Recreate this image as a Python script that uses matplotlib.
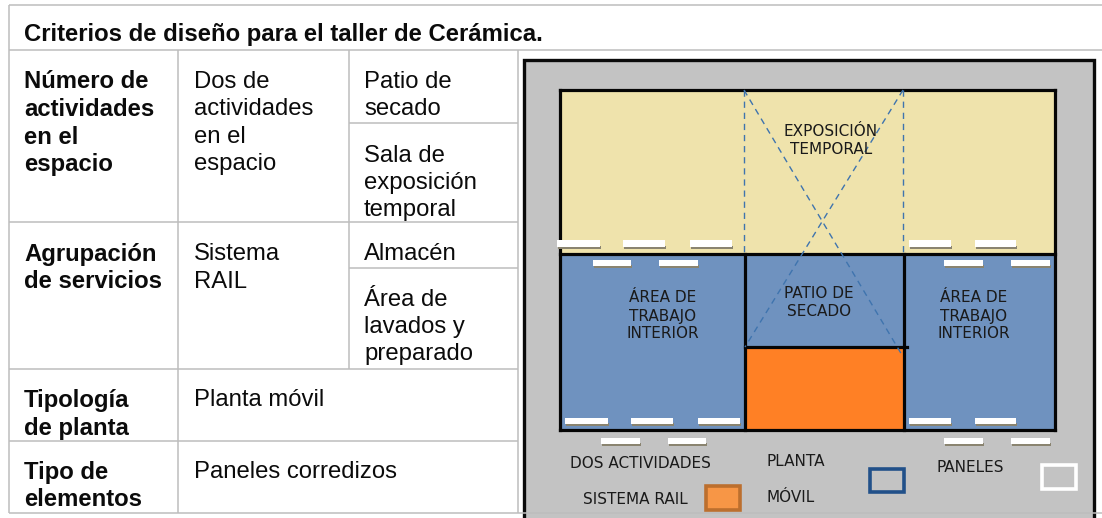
import matplotlib
matplotlib.use("Agg")
import matplotlib.pyplot as plt
from matplotlib.patches import Rectangle

title = "Criterios de diseño para el taller de Cerámica."
row_heads = ["Número de\nactividades\nen el\nespacio", "Agrupación\nde servicios", "Tipología\nde planta", "Tipo de\nelementos"]
col2 = ["Dos de\nactividades\nen el\nespacio", "Sistema\nRAIL", "Planta móvil", "Paneles corredizos"]
col3 = ["Patio de\nsecado", "Sala de\nexposición\ntemporal", "Almacén", "Área de\nlavados y\npreparado"]
room_labels = ["EXPOSICIÓN\nTEMPORAL", "ÁREA DE\nTRABAJO\nINTERIOR", "PATIO DE\nSECADO", "ÁREA DE\nTRABAJO\nINTERIOR"]
legend_labels = ["DOS ACTIVIDADES", "SISTEMA RAIL", "PLANTA", "MÓVIL", "PANELES"]

W, H = 1102, 518
fig = plt.figure(figsize=(W / 100, H / 100), dpi=100, facecolor="white")
ax = fig.add_axes([0, 0, 1, 1])
ax.set_xlim(0, W)
ax.set_ylim(H, 0)
ax.axis("off")

GRID = "#BDBDBD"
INK = "#0B0B0B"
SANS = "Liberation Sans"
FS = 17.2


def rect(x0, y0, x1, y1, fc="none", ec="none", lw=0, z=2):
    ax.add_patch(Rectangle((x0, y0), x1 - x0, y1 - y0, facecolor=fc, edgecolor=ec, linewidth=lw, zorder=z))


def cell(x, y, s, bold=False):
    ax.text(x, y, s, fontsize=FS, family=SANS, color=INK, va="top", ha="left",
            fontweight="bold" if bold else "normal", linespacing=1.25 if bold else 1.31, zorder=6)


# diagram
rect(524, 60, 1094, 530, fc="#C3C3C3", ec="#0A0A0A", lw=2.4, z=1)
rect(560, 90, 1055, 254, fc="#EFE3AC", z=2)
rect(560, 254, 1055, 430, fc="#6F92BF", z=2)
rect(745, 347, 904, 430, fc="#FF8025", z=2)
for x0, y0, x1, y1 in [(560, 90, 1055, 90), (560, 254, 1055, 254), (560, 430, 1055, 430),
                       (560, 90, 560, 430), (1055, 90, 1055, 430), (745, 254, 745, 430),
                       (904, 254, 904, 430), (745, 347, 907, 347)]:
    ax.plot([x0, x1], [y0, y1], color="#050505", lw=2.3, solid_capstyle="projecting", zorder=3)

for x0, y0, x1, y1 in [(744, 90, 744, 253), (903, 90, 903, 253), (744, 90, 902, 355), (903, 90, 745, 347)]:
    ax.plot([x0, x1], [y0, y1], color="#3F74AE", lw=1.0, ls=(0, (4.5, 3.5)), zorder=4)

for x0, x1, y0, y1 in [(557, 600, 240, 247), (623, 665, 240, 247), (690, 732, 240, 247),
                       (909, 951, 240, 247), (975, 1016, 240, 247),
                       (593, 631, 260, 266), (659, 698, 260, 266), (944, 983, 260, 266), (1011, 1050, 260, 266),
                       (565, 608, 418, 424), (631, 673, 418, 424), (698, 740, 418, 424),
                       (909, 951, 418, 424), (975, 1016, 418, 424),
                       (601, 640, 438, 444), (668, 706, 438, 444), (944, 983, 438, 444), (1011, 1050, 438, 444)]:
    rect(x0 + 1, y1 - 1, x1 + 1, y1 + 2, fc="#8A8470", z=4)
    rect(x0, y0, x1, y1, fc="white", z=5)

DFS = 11
for (cx, cy), s in zip([(831, 140), (663, 316), (819, 302), (974, 316)], room_labels):
    ax.text(cx, cy, s, ha="center", va="center", fontsize=DFS, family="DejaVu Sans", color="#1A1A1A",
            linespacing=1.25, zorder=6)
for (lx, ly), s in zip([(570, 463), (583, 499), (766, 462), (766, 498), (937, 467)], legend_labels):
    ax.text(lx, ly, s, ha="left", va="center", fontsize=DFS, family="DejaVu Sans", color="#1A1A1A", zorder=6)

rect(705.5, 485.5, 739.5, 510, fc="#F79646", ec="#BC6F2E", lw=2.6, z=5)
rect(869.5, 468.5, 903.5, 492, fc="#C3C3C3", ec="#215089", lw=2.6, z=5)
rect(1041.5, 464.5, 1075.5, 488.5, fc="#C3C3C3", ec="white", lw=2.6, z=5)

# table grid
for y, x0, x1 in [(5, 9, W), (50, 9, W), (123, 349, 518), (222, 9, 518), (268, 349, 518),
                  (369, 9, 518), (441, 9, 518), (513, 9, W)]:
    ax.plot([x0, x1], [y, y], color=GRID, lw=1.1, zorder=7, solid_capstyle="butt")
for x, y0, y1 in [(9, 5, 513), (178, 50, 513), (349, 50, 369), (518, 50, 513)]:
    ax.plot([x, x], [y0, y1], color=GRID, lw=1.1, zorder=7, solid_capstyle="butt")

# table text
ax.text(24, 34, title, fontsize=FS, family=SANS, fontweight="bold", color=INK, va="center", ha="left", zorder=6)
for (y), s in zip([70.5, 243, 389, 461], row_heads):
    cell(24, y, s, bold=True)
for (y), s in zip([71, 243.5, 389, 461], col2):
    cell(194, y, s)
for (y), s in zip([71, 144.5, 243, 288.5], col3):
    cell(364, y, s)

fig.savefig("out.png", dpi=100, facecolor="white")
